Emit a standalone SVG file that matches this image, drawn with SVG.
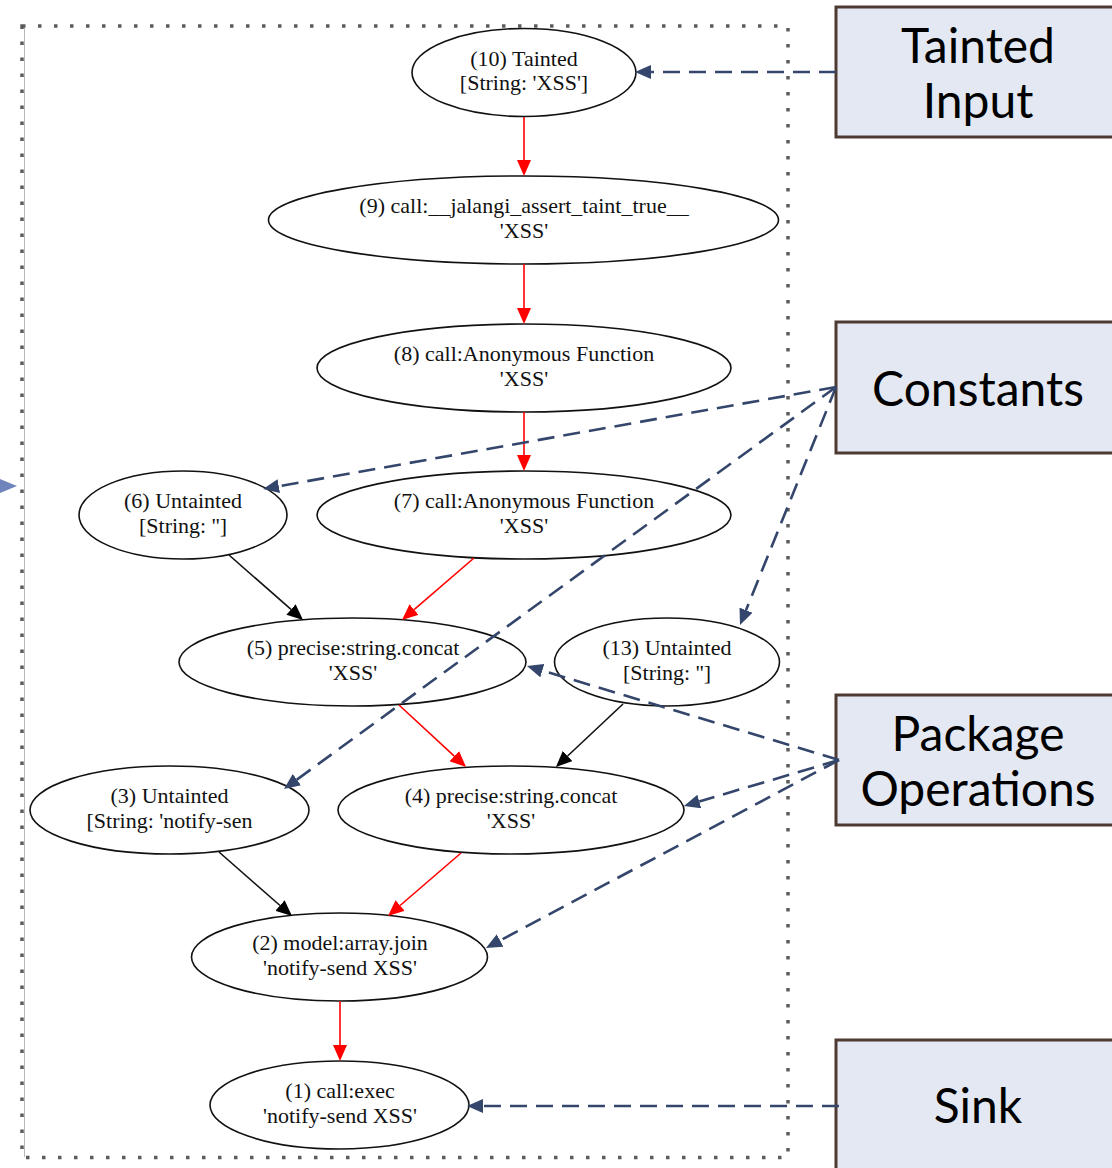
<svg xmlns="http://www.w3.org/2000/svg" width="1112" height="1168" viewBox="0 0 1112 1168">
<style>
.node ellipse{fill:#fff;stroke:#111;stroke-width:1.6}
.node text{font-family:"Liberation Serif","Times New Roman",serif;font-size:22px;fill:#111;text-anchor:middle}
.label rect{fill:#e3e8f2;stroke:#4e3a33;stroke-width:3}
.label text{font-family:Lato,"Open Sans",sans-serif;font-size:48px;fill:#000;text-anchor:middle}
.red{stroke:#ff0000;stroke-width:1.6;fill:none}
.blk{stroke:#111;stroke-width:1.6;fill:none}
.dash{stroke:#34466b;stroke-width:2.6;fill:none;stroke-dasharray:17 9}
</style>
<defs>
<marker id="aR" markerUnits="userSpaceOnUse" markerWidth="16" markerHeight="14" refX="0" refY="7" orient="auto"><path d="M0,0 L16,7 L0,14 z" fill="#ff0000"/></marker>
<marker id="aK" markerUnits="userSpaceOnUse" markerWidth="16" markerHeight="14" refX="0" refY="7" orient="auto"><path d="M0,0 L16,7 L0,14 z" fill="#000"/></marker>
<marker id="aB" markerUnits="userSpaceOnUse" markerWidth="16" markerHeight="14" refX="0" refY="7" orient="auto"><path d="M0,0 L16,7 L0,14 z" fill="#34466b"/></marker>
</defs>
<g id="frame">
<line x1="24.5" y1="26" x2="24.5" y2="1157" stroke="#b8b8b8" stroke-width="1"/>
<rect x="22" y="26" width="766" height="1131.5" fill="none" stroke="#5c5c5c" stroke-width="3.5" stroke-dasharray="3.5 12.5"/>
<path d="M0,479 L17,486 L0,493 z" fill="#6f84bb"/>
</g>
<g id="n10" class="node"><ellipse cx="524" cy="72.5" rx="112" ry="44"/><text x="524" y="66">(10) Tainted</text><text x="524" y="90">[String: 'XSS']</text></g>
<g id="n9" class="node"><ellipse cx="523.5" cy="220" rx="255" ry="44"/><text x="524" y="213">(9) call:__jalangi_assert_taint_true__</text><text x="524" y="238">'XSS'</text></g>
<g id="n8" class="node"><ellipse cx="524" cy="368" rx="207" ry="44"/><text x="524" y="361">(8) call:Anonymous Function</text><text x="524" y="386">'XSS'</text></g>
<g id="n7" class="node"><ellipse cx="524" cy="515" rx="207" ry="44"/><text x="524" y="508">(7) call:Anonymous Function</text><text x="524" y="533">'XSS'</text></g>
<g id="n6" class="node"><ellipse cx="183" cy="515" rx="104" ry="44"/><text x="183" y="508">(6) Untainted</text><text x="183" y="533">[String: '']</text></g>
<g id="n5" class="node"><ellipse cx="352.5" cy="662" rx="173.5" ry="44"/><text x="353" y="655">(5) precise:string.concat</text><text x="353" y="680">'XSS'</text></g>
<g id="n13" class="node"><ellipse cx="667" cy="662" rx="112.5" ry="44"/><text x="667" y="655">(13) Untainted</text><text x="667" y="680">[String: '']</text></g>
<g id="n3" class="node"><ellipse cx="169.5" cy="810" rx="139.5" ry="44"/><text x="169.5" y="803">(3) Untainted</text><text x="169.5" y="828">[String: 'notify-sen</text></g>
<g id="n4" class="node"><ellipse cx="511" cy="810" rx="173" ry="44"/><text x="511" y="803">(4) precise:string.concat</text><text x="511" y="828">'XSS'</text></g>
<g id="n2" class="node"><ellipse cx="339.5" cy="957" rx="148" ry="44"/><text x="340" y="950">(2) model:array.join</text><text x="340" y="975">'notify-send XSS'</text></g>
<g id="n1" class="node"><ellipse cx="339.5" cy="1105" rx="129.5" ry="44"/><text x="340" y="1098">(1) call:exec</text><text x="340" y="1123">'notify-send XSS'</text></g>
<g id="lblTainted" class="label"><rect x="836" y="7" width="290" height="130"/><text x="978" y="63">Tainted</text><text x="978" y="118">Input</text></g>
<g id="lblConstants" class="label"><rect x="836" y="322" width="290" height="131"/><text x="978" y="406">Constants</text></g>
<g id="lblPackage" class="label"><rect x="836" y="695" width="290" height="130"/><text x="978" y="751">Package</text><text x="978" y="806">Operations</text></g>
<g id="lblSink" class="label"><rect x="836" y="1040" width="290" height="140"/><text x="978" y="1123">Sink</text></g>
<g id="edges">
<line class="red" x1="524" y1="117" x2="524" y2="160" marker-end="url(#aR)"/>
<line class="red" x1="524" y1="264" x2="524" y2="308" marker-end="url(#aR)"/>
<line class="red" x1="524" y1="412" x2="524" y2="455" marker-end="url(#aR)"/>
<line class="red" x1="474" y1="558" x2="414.1" y2="609.6" marker-end="url(#aR)"/>
<line class="blk" x1="229" y1="555" x2="291" y2="609.4" marker-end="url(#aK)"/>
<line class="red" x1="399" y1="705" x2="454.3" y2="756.1" marker-end="url(#aR)"/>
<line class="blk" x1="623" y1="704" x2="567.6" y2="756" marker-end="url(#aK)"/>
<line class="blk" x1="219" y1="852" x2="280" y2="905.5" marker-end="url(#aK)"/>
<line class="red" x1="461" y1="853" x2="400.1" y2="905.5" marker-end="url(#aR)"/>
<line class="red" x1="340" y1="1001" x2="340" y2="1045" marker-end="url(#aR)"/>
<line class="dash" x1="836" y1="72" x2="651" y2="72" marker-end="url(#aB)"/>
<line class="dash" x1="836" y1="387" x2="278.8" y2="486.2" marker-end="url(#aB)"/>
<line class="dash" x1="836" y1="387" x2="296.9" y2="779.6" marker-end="url(#aB)"/>
<line class="dash" x1="836" y1="387" x2="746" y2="610.2" marker-end="url(#aB)"/>
<line class="dash" x1="839" y1="760" x2="542.3" y2="670.6" marker-end="url(#aB)"/>
<line class="dash" x1="839" y1="760" x2="699.3" y2="801.5" marker-end="url(#aB)"/>
<line class="dash" x1="839" y1="760" x2="500.1" y2="940.5" marker-end="url(#aB)"/>
<line class="dash" x1="839" y1="1106" x2="483" y2="1106" marker-end="url(#aB)"/>
</g>
</svg>
